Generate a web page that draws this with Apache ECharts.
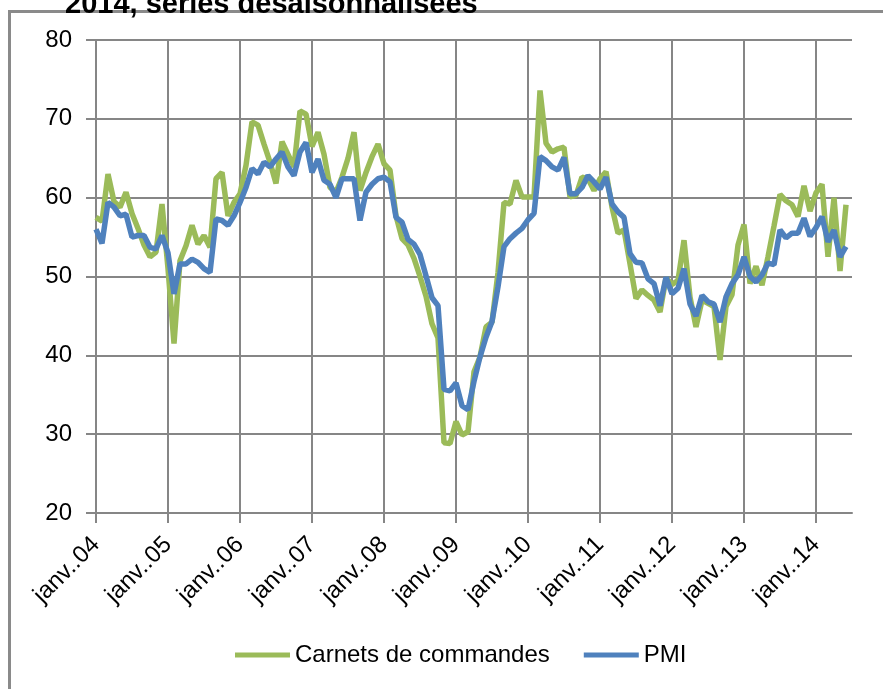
<!DOCTYPE html>
<html>
<head>
<meta charset="utf-8">
<script src="https://cdn.jsdelivr.net/npm/echarts@6/dist/echarts.min.js"></script>
<style>
  html, body { margin: 0; padding: 0; background: #fff; }
  #chart { width: 883px; height: 689px; }
</style>
</head>
<body>
<div id="chart"></div>
<script>
// mois et années (jan. 2004 -> juin 2014, l'axe va jusqu'à juil. 2014)
const monthNames = ['janv.', 'févr.', 'mars', 'avr.', 'mai', 'juin', 'juil.', 'août', 'sept.', 'oct.', 'nov.', 'déc.'];
const years = ['04', '05', '06', '07', '08', '09', '10', '11', '12', '13', '14'];
const nbMonths = 127;

// Carnets de commandes (vert)
const carnets = [
  57.5, 57.0, 63.0, 59.5, 58.8, 60.7, 58.0, 56.1, 54.0, 52.5, 53.1, 59.2,
  51.0, 41.5, 52.0, 53.9, 56.5, 54.1, 55.2, 53.7, 62.4, 63.2, 57.7, 59.4,
  60.5, 64.1, 69.6, 69.2, 66.8, 64.5, 61.8, 67.1, 65.5, 63.9, 71.0, 70.6,
  66.5, 68.3, 65.5, 61.3, 60.7, 62.6, 65.0, 68.3, 60.9, 63.2, 65.2, 66.8,
  64.3, 63.5, 57.7, 54.8, 54.0, 52.3, 50.0, 47.5, 44.0, 42.2, 28.9, 28.8,
  31.6, 29.9, 30.3, 37.9, 39.8, 43.6, 44.2, 50.5, 59.4, 59.2, 62.2, 60.1,
  60.1, 60.1, 73.6, 66.9, 65.8, 66.2, 66.4, 60.1, 60.3, 62.6, 62.4, 60.9,
  62.4, 63.3, 58.8, 55.5, 55.9, 51.6, 47.2, 48.3, 47.6, 47.0, 45.5, 49.8,
  49.0, 49.5, 54.6, 47.4, 43.6, 47.0, 46.6, 46.2, 39.4, 46.2, 47.7, 54.0,
  56.6, 49.1, 51.3, 48.9, 52.5, 56.4, 60.4, 59.6, 59.1, 57.6, 61.5, 58.3,
  60.6, 61.7, 52.5, 60.0, 50.7, 59.1
];

// PMI (bleu)
const pmi = [
  56.0, 54.2, 59.4, 58.8, 57.7, 57.9, 55.0, 55.2, 55.2, 53.7, 53.5, 55.2,
  53.0, 47.8, 51.6, 51.6, 52.2, 51.8, 51.0, 50.5, 57.3, 57.1, 56.5, 57.7,
  59.4, 61.3, 63.7, 63.0, 64.5, 63.9, 64.9, 65.8, 63.9, 62.8, 65.8, 67.0,
  63.2, 64.9, 62.2, 61.7, 60.0, 62.4, 62.4, 62.4, 57.1, 60.7, 61.7, 62.4,
  62.6, 62.0, 57.5, 56.9, 54.7, 54.1, 52.8, 50.1, 47.3, 46.3, 35.7, 35.5,
  36.5, 33.6, 33.1, 36.7, 39.8, 42.3, 44.3, 48.7, 53.8, 54.8, 55.5, 56.1,
  57.2, 58.0, 65.2, 64.7, 63.9, 63.5, 65.1, 60.5, 60.5, 61.3, 62.8, 62.0,
  61.1, 62.6, 59.2, 58.2, 57.5, 52.9, 51.8, 51.7, 49.7, 49.1, 46.3, 49.9,
  47.8, 48.5, 51.0, 46.5, 45.0, 47.6, 46.8, 46.5, 44.2, 47.4, 49.1, 50.2,
  52.5, 50.0, 49.3, 50.2, 51.7, 51.5, 55.9, 54.9, 55.5, 55.5, 57.4, 55.1,
  56.2, 57.6, 54.4, 55.9, 52.5, 53.8
];

const categories = [];
for (let i = 0; i < nbMonths; i++) {
  categories.push(monthNames[i % 12] + '.' + years[Math.floor(i / 12)]);
}

const gridColor = '#868686';
const font = "'Liberation Sans', Arial, sans-serif";

const chart = echarts.init(document.getElementById('chart'), null, { renderer: 'canvas' });

const option = {
  backgroundColor: '#ffffff',
  animation: false,
  textStyle: { fontFamily: font },
  graphic: [
    {
      type: 'rect',
      shape: { x: 9.5, y: 11.5, width: 900, height: 700 },
      style: { fill: 'none', stroke: '#8a8a8a', lineWidth: 3 }
    },
    {
      type: 'text',
      x: 65, y: 19,
      style: {
        text: '2014, séries désaisonnalisées',
        font: 'bold 29px ' + font,
        fill: '#000',
        verticalAlign: 'bottom'
      }
    }
  ],
  legend: {
    data: ['Carnets de commandes', 'PMI'],
    left: 235,
    top: 643,
    padding: 0,
    icon: 'rect',
    itemWidth: 55,
    itemHeight: 5,
    itemGap: 34,
    textStyle: { fontSize: 24, color: '#000', fontFamily: font }
  },
  grid: {
    left: 96,
    top: 40,
    width: 756,
    height: 473,
    containLabel: false
  },
  xAxis: {
    type: 'category',
    data: categories,
    boundaryGap: false,
    axisLine: { show: true, lineStyle: { color: gridColor, width: 2 } },
    axisTick: { show: true, interval: 11, length: 10, lineStyle: { color: gridColor, width: 2 } },
    axisLabel: {
      interval: 11,
      rotate: 45,
      fontSize: 24,
      color: '#000',
      margin: 28
    },
    splitLine: { show: true, interval: 11, lineStyle: { color: gridColor, width: 2 } }
  },
  yAxis: {
    type: 'value',
    min: 20,
    max: 80,
    interval: 10,
    axisLine: { show: true, lineStyle: { color: gridColor, width: 2 } },
    axisTick: { show: true, length: 10, lineStyle: { color: gridColor, width: 2 } },
    axisLabel: { fontSize: 24, color: '#000', margin: 24 },
    splitLine: { show: true, lineStyle: { color: gridColor, width: 2 } }
  },
  series: [
    {
      name: 'Carnets de commandes',
      type: 'line',
      data: carnets,
      showSymbol: false,
      symbol: 'none',
      color: '#9bbb59',
      lineStyle: { width: 5.5, color: '#9bbb59' }
    },
    {
      name: 'PMI',
      type: 'line',
      data: pmi,
      showSymbol: false,
      symbol: 'none',
      color: '#4f81bd',
      lineStyle: { width: 5.5, color: '#4f81bd' }
    }
  ]
};

chart.setOption(option);
</script>
</body>
</html>
